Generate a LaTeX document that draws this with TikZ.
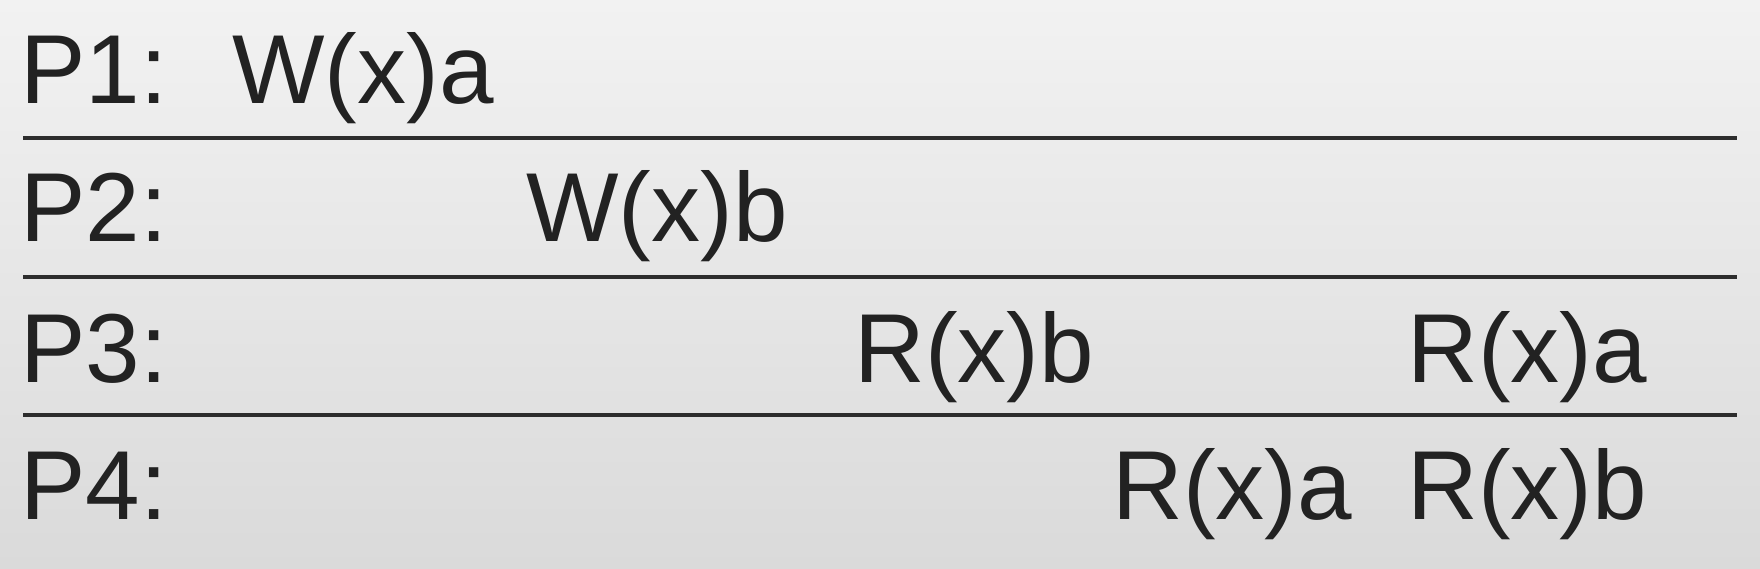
\documentclass[tikz,border=0pt]{standalone}
\usepackage{fontspec}
\setmainfont{Liberation Sans}
\usepackage{tikz}
\definecolor{inkgray}{HTML}{222222}
\definecolor{bgtop}{HTML}{F2F2F2}
\definecolor{bgbot}{HTML}{DADADA}

\begin{document}
\begin{tikzpicture}[x=0.5pt,y=-0.5pt,
        op/.style={anchor=base west,inner sep=0pt,text=inkgray,font=\fontsize{49}{58}\selectfont}]
        \shade[top color=bgtop,bottom color=bgbot] (0,0) rectangle (1760,568);
        \useasboundingbox (0,0) rectangle (1760,568);

        \foreach \y in {137.5,276.5,415}
        {
            \draw[line width=2pt,inkgray!95] (23,\y)--(1737,\y);
        }

        \node[op] (p1) at (20,103){P1:};
        \node[op] (p2) at (20,241){P2:};
        \node[op] (p3) at (20,382){P3:};
        \node[op] (p4) at (20,519){P4:};

        \node[op] (wa) at (232,103){W(x)a};
        \node[op] (wb) at (526,241){W(x)b};
        \node[op] (rb3) at (854,382){R(x)b};
        \node[op] (ra3) at (1407,382){R(x)a};
        \node[op] (ra4) at (1112,519){R(x)a};
        \node[op] (rb4) at (1407,519){R(x)b};

    \end{tikzpicture}
\end{document}
